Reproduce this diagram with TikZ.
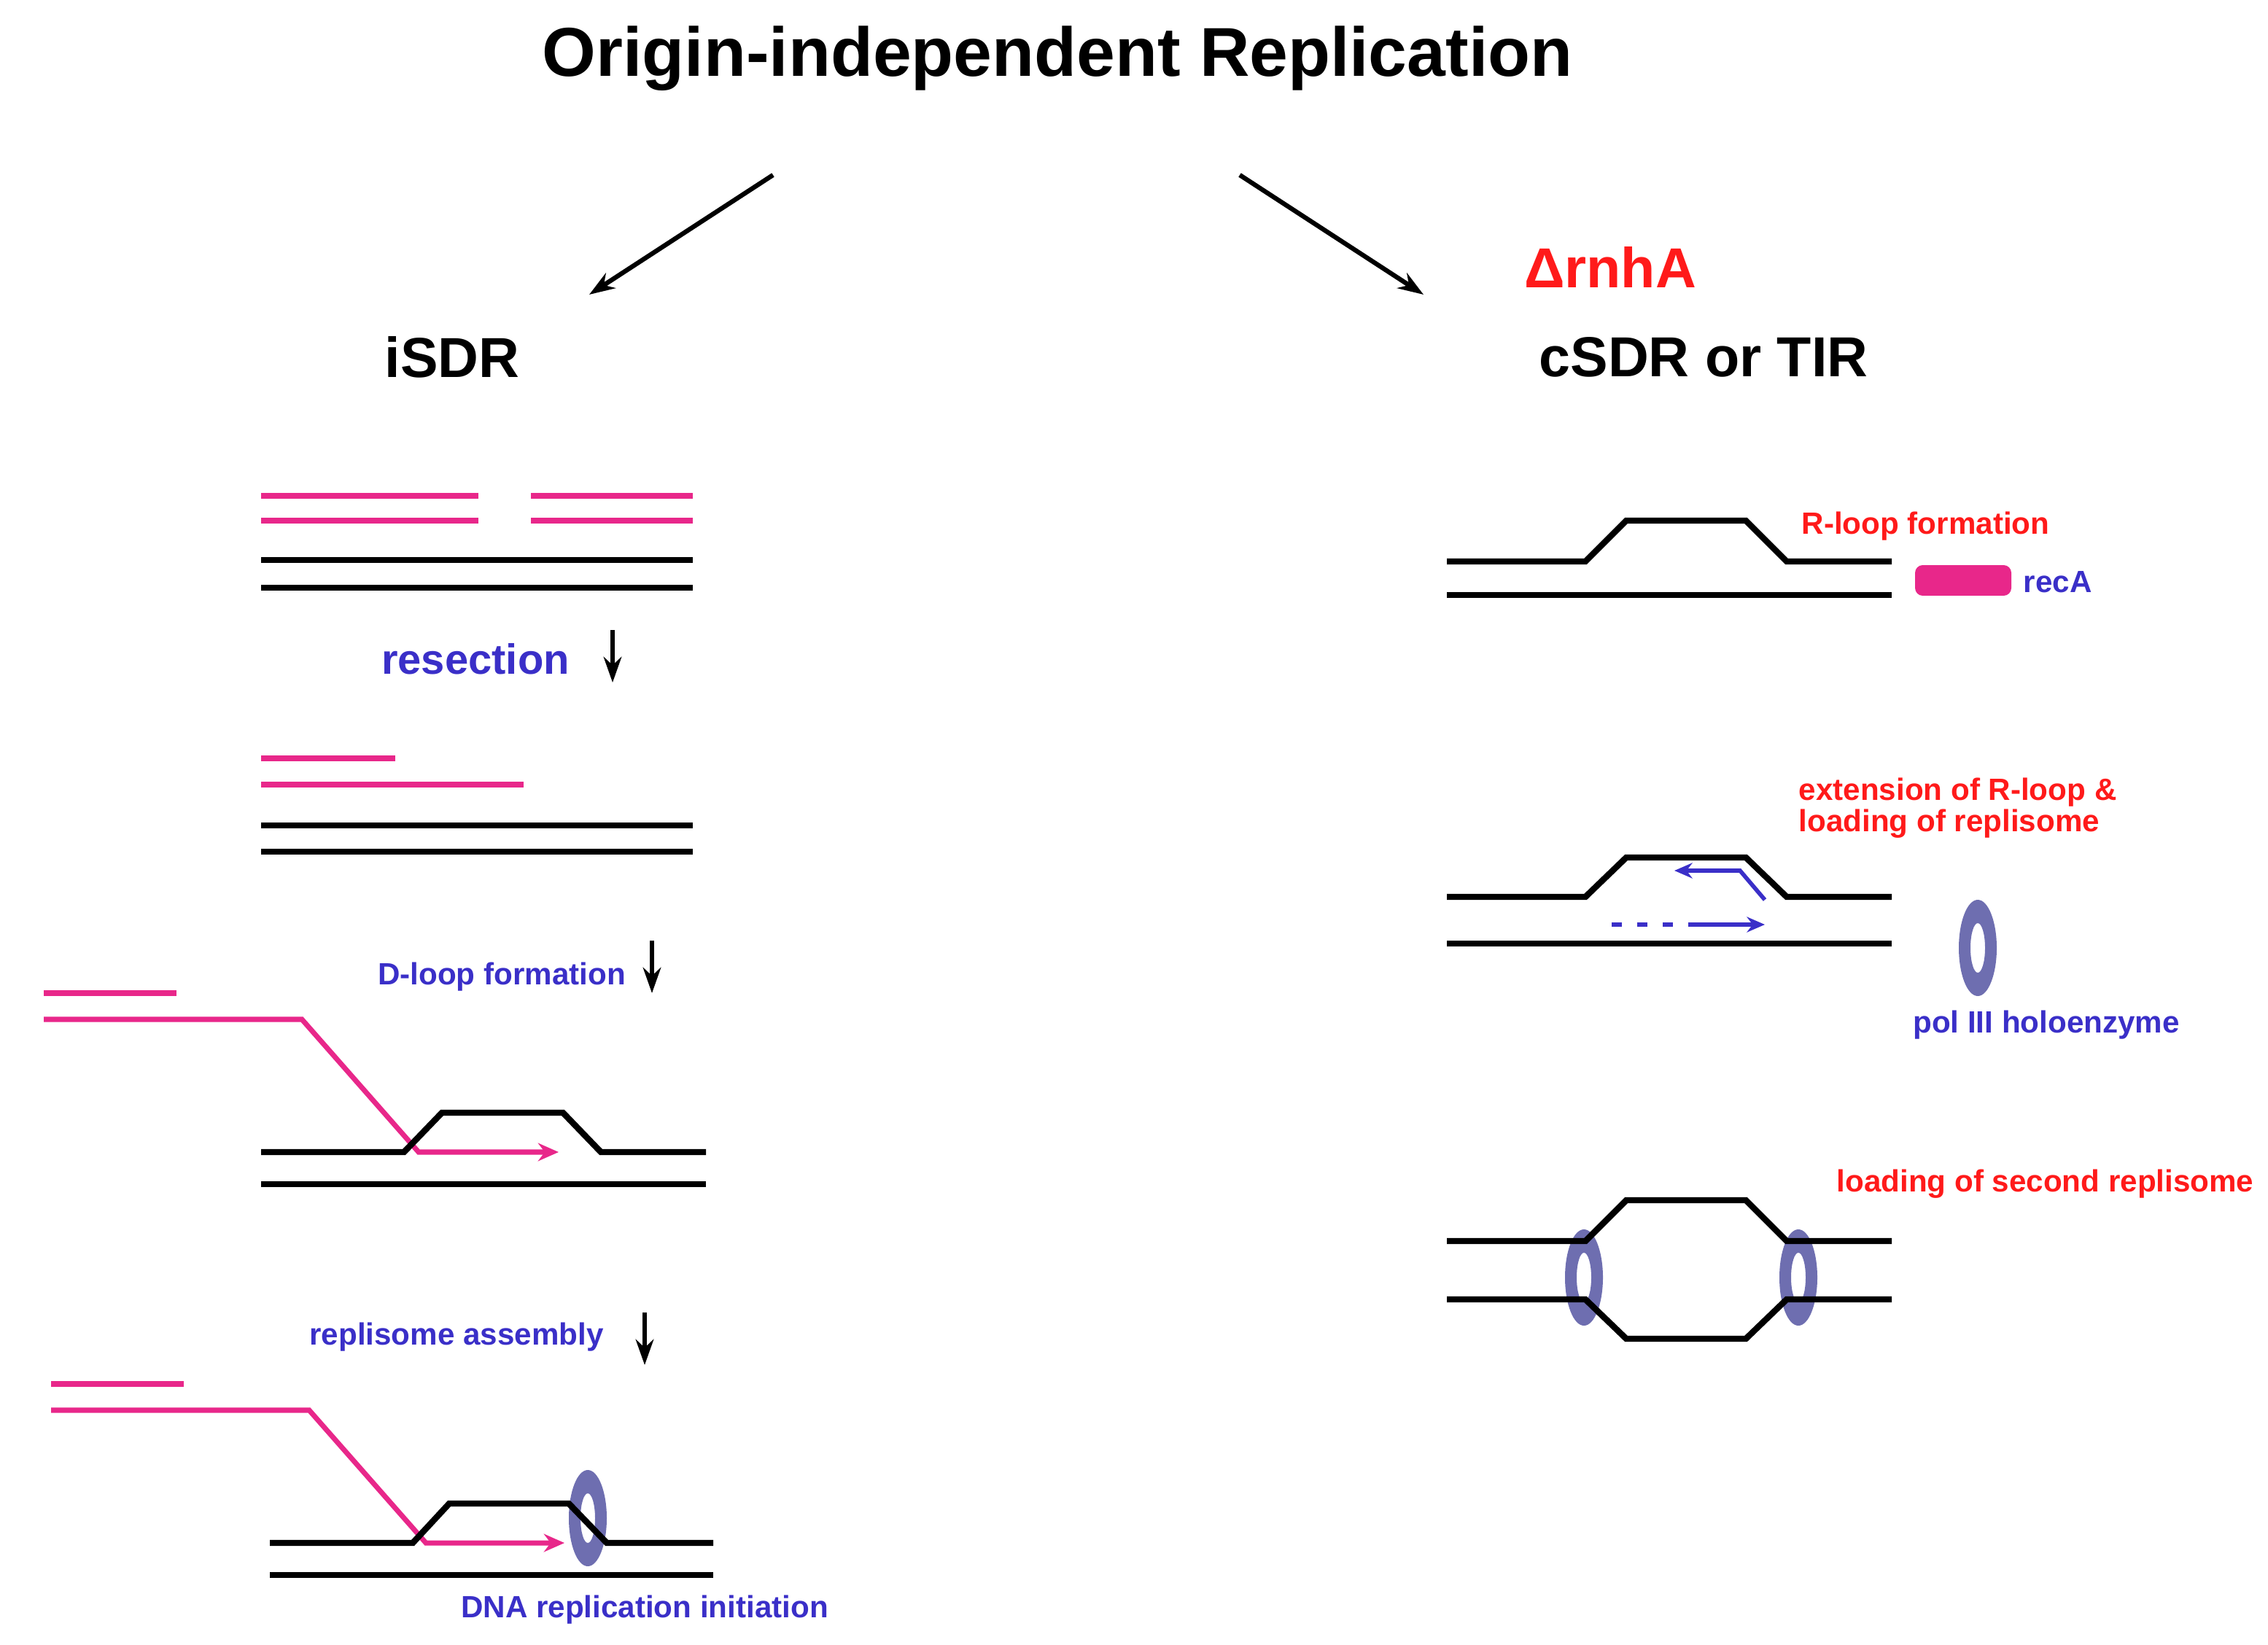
\documentclass[tikz,border=0pt]{standalone}
\usepackage{fontspec}
\setmainfont{Liberation Sans}
\usetikzlibrary{arrows.meta}
\definecolor{pk}{HTML}{E8278A}
\definecolor{bl}{HTML}{3A2FC8}
\definecolor{rd}{HTML}{FF1A1A}
\definecolor{rg}{HTML}{6E6EB0}
\begin{document}
\begin{tikzpicture}[x=0.02cm,y=-0.02cm,
  dna/.style={line width=2.4pt,black,line join=miter},
  rna/.style={line width=2pt,pk},
  lbl/.style={font=\bfseries\fontsize{12}{14}\selectfont,inner sep=0pt},
  big/.style={font=\bfseries\fontsize{22}{26}\selectfont,inner sep=0pt},
  stp/.style={-{Stealth[length=10pt,width=7pt]},line width=1.6pt},
  ring/.style={fill=rg,draw=none}]
\useasboundingbox (0,0) rectangle (1555,1128);
\node[font=\bfseries\fontsize{27}{30}\selectfont,inner sep=0pt] (title) at (725,40) {Origin-independent Replication};
\coordinate (a1) at (530,120); \coordinate (a2) at (404,202);
\coordinate (b1) at (850,120); \coordinate (b2) at (976,202);
\draw[stp,line width=1.8pt] (a1) -- (a2);
\draw[stp,line width=1.8pt] (b1) -- (b2);
\node[big] (isdr) at (310,245) {iSDR};
\node[big,rd] (rnh) at (1104,183) {Δ{}rnhA};
\node[big] (csdr) at (1168,245) {cSDR or TIR};
% block 1
\draw[rna] (179,340)--(328,340); \draw[rna] (179,357)--(328,357);
\draw[rna] (364,340)--(475,340); \draw[rna] (364,357)--(475,357);
\draw[dna] (179,384)--(475,384); \draw[dna] (179,403)--(475,403);
\node[lbl,bl,font=\bfseries\fontsize{16.5}{18}\selectfont] (res) at (326,452) {resection};
\coordinate (r1) at (420,432); \coordinate (r2) at (420,468);
\draw[stp] (r1)--(r2);
% block 2
\draw[rna] (179,520)--(271,520); \draw[rna] (179,538)--(359,538);
\draw[dna] (179,566)--(475,566); \draw[dna] (179,584)--(475,584);
\node[lbl,bl] (dl) at (344,670) {D-loop formation};
\coordinate (d1) at (447,645); \coordinate (d2) at (447,681);
\draw[stp] (d1)--(d2);
% block 3
\draw[rna] (30,681)--(121,681);
\draw[rna,-{Stealth[length=8pt,width=7pt]}] (30,699)--(207,699)--(287,790)--(383,790);
\draw[dna] (179,790)--(277,790)--(303,763)--(386,763)--(412,790)--(484,790);
\draw[dna] (179,812)--(484,812);
\node[lbl,bl] (ra) at (313,917) {replisome assembly};
\coordinate (e1) at (442,900); \coordinate (e2) at (442,936);
\draw[stp] (e1)--(e2);
% block 4
\draw[rna] (35,949)--(126,949);
\draw[rna,-{Stealth[length=8pt,width=7pt]}] (35,967)--(212,967)--(292,1058)--(387,1058);
\fill[ring,even odd rule] (403,1041) ellipse [x radius=13,y radius=33] (403,1041) ellipse [x radius=5,y radius=17];
\draw[dna] (185,1058)--(283,1058)--(308,1031)--(390,1031)--(416,1058)--(489,1058);
\draw[dna] (185,1080)--(489,1080);
\node[lbl,bl] (dri) at (442,1104) {DNA replication initiation};
% right block 1
\draw[dna] (992,385)--(1087,385)--(1115,357)--(1197,357)--(1225,385)--(1297,385);
\draw[dna] (992,408)--(1297,408);
\node[lbl,rd,anchor=west] (rlf) at (1235,361) {R-loop formation};
\node[fill=pk,rounded corners=3pt,minimum width=1.32cm,minimum height=0.42cm,inner sep=0pt] (reca) at (1346,398) {};
\node[lbl,bl,anchor=west] (recat) at (1387,399) {recA};
% right block 2
\node[lbl,rd,anchor=west,align=left,font=\bfseries\fontsize{12}{11}\selectfont] (ext) at (1233,554) {extension of R-loop \&\\loading of replisome};
\draw[dna] (992,615)--(1087,615)--(1115,588)--(1197,588)--(1225,615)--(1297,615);
\draw[dna] (992,647)--(1297,647);
\draw[bl,line width=1.6pt,-{Stealth[length=7pt,width=6pt]}] (1210,617)--(1193,597)--(1148,597);
\draw[bl,line width=1.8pt,dash pattern=on 4pt off 6pt] (1105,634)--(1160,634);
\draw[bl,line width=1.8pt,-{Stealth[length=7pt,width=6pt]}] (1160,634)--(1210,634);
\fill[ring,even odd rule] (1356,650) ellipse [x radius=13,y radius=33] (1356,650) ellipse [x radius=5,y radius=17];
\node[lbl,bl] (pol) at (1403,703) {pol III holoenzyme};
% right block 3
\node[lbl,rd,anchor=west] (lsr) at (1259,812) {loading of second replisome};
\fill[ring,even odd rule] (1086,876) ellipse [x radius=13,y radius=33] (1086,876) ellipse [x radius=5,y radius=17];
\fill[ring,even odd rule] (1233,876) ellipse [x radius=13,y radius=33] (1233,876) ellipse [x radius=5,y radius=17];
\draw[dna] (992,851)--(1087,851)--(1115,823)--(1197,823)--(1225,851)--(1297,851);
\draw[dna] (992,891)--(1087,891)--(1115,918)--(1197,918)--(1225,891)--(1297,891);
\end{tikzpicture}
\end{document}
